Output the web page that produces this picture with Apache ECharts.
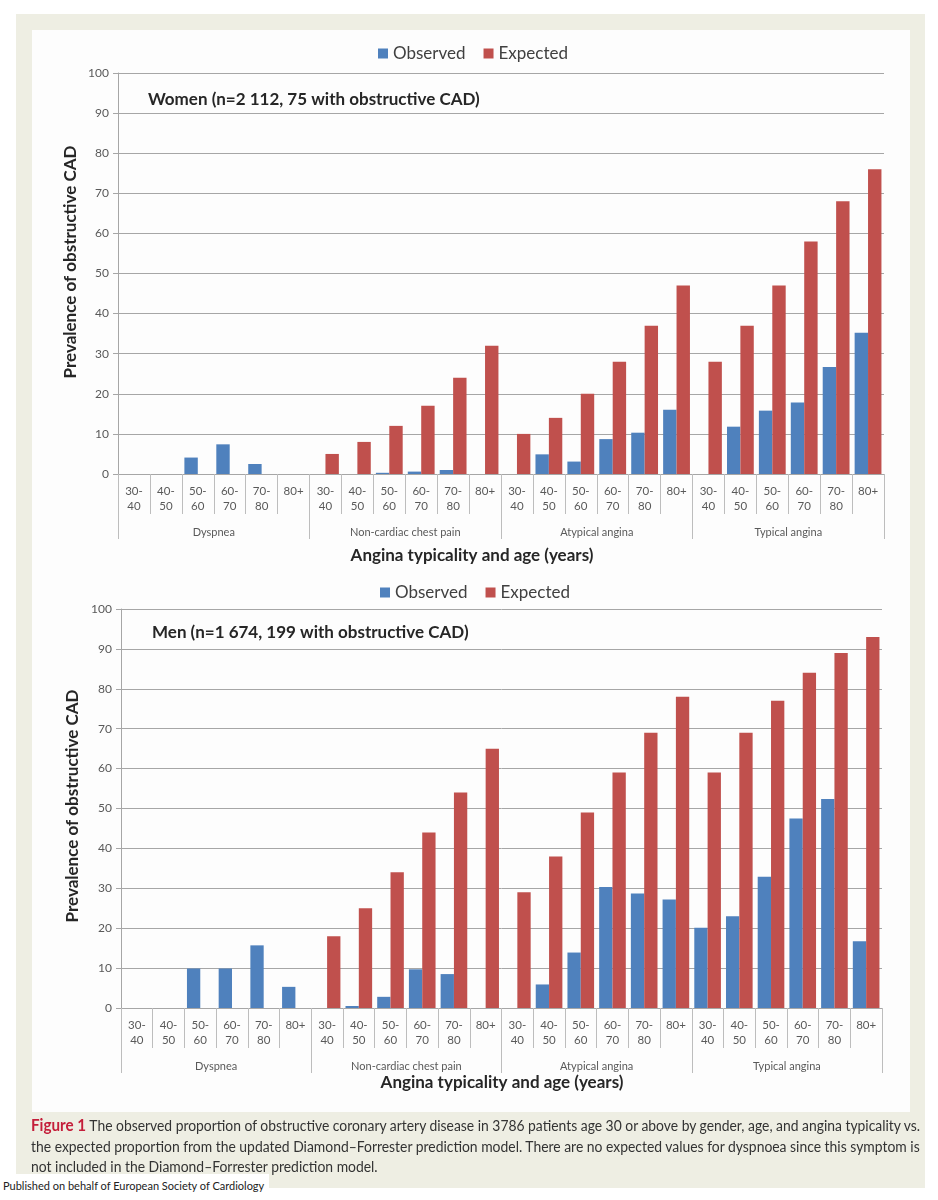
<!DOCTYPE html>
<html>
<head>
<meta charset="utf-8">
<script src="https://cdn.jsdelivr.net/npm/echarts@6/dist/echarts.min.js"></script>
<style>
html,body{margin:0;padding:0;background:#fff;}
body{width:938px;height:1200px;position:relative;overflow:hidden;}
#panel{position:absolute;left:16px;top:14px;width:909px;height:1174px;background:#eeeee3;}
#inner{position:absolute;left:32px;top:30px;width:878px;height:1082px;background:#fdfdfd;}
#chart{position:absolute;left:0;top:0;width:938px;height:1200px;}
.cap{position:absolute;left:31px;font-family:Lato,"Open Sans",sans-serif;font-size:15.5px;color:#333;white-space:nowrap;line-height:21px;transform-origin:0 50%;display:inline-block;}
.fig{color:#c41e3a;font-weight:bold;font-size:17px;}
#pub{position:absolute;left:0;top:1174px;padding:0 5px 0 3px;background:#fff;font-family:Lato,sans-serif;font-size:11px;color:#222;line-height:24px;}
</style>
</head>
<body>
<div id="panel"></div>
<div id="inner"></div>
<div id="chart"></div>
<div class="cap" id="c1" style="top:1114px;"><span class="fig">Figure 1</span> The observed proportion of obstructive coronary artery disease in 3786 patients age 30 or above by gender, age, and angina typicality vs.</div>
<div class="cap" id="c2" style="top:1136px;">the expected proportion from the updated Diamond–Forrester prediction model. There are no expected values for dyspnoea since this symptom is</div>
<div class="cap" id="c3" style="top:1156px;">not included in the Diamond–Forrester prediction model.</div>
<div id="pub">Published on behalf of European Society of Cardiology</div>
<script>
// ---------- data ----------
const ageLabels = ['30-40', '40-50', '50-60', '60-70', '70-80', '80+'];
const groupLabels = ['Dyspnea', 'Non-cardiac chest pain', 'Atypical angina', 'Typical angina'];
const yTicks = [0, 10, 20, 30, 40, 50, 60, 70, 80, 90, 100];
const seriesNames = ['Observed', 'Expected'];

// order: Dyspnea(6), Non-cardiac(6), Atypical(6), Typical(6)
const womenObserved = [null, null, 4.1, 7.4, 2.5, null,
                       null, null, 0.3, 0.6, 1.0, null,
                       null, 4.9, 3.1, 8.7, 10.3, 16.0,
                       null, 11.8, 15.8, 17.8, 26.7, 35.2];
const womenExpected = [null, null, null, null, null, null,
                       5, 8, 12, 17, 24, 32,
                       10, 14, 20, 28, 37, 47,
                       28, 37, 47, 58, 68, 76];
const menObserved = [null, null, 9.9, 9.9, 15.7, 5.3,
                     null, 0.5, 2.8, 9.7, 8.5, null,
                     null, 5.9, 13.9, 30.3, 28.7, 27.2,
                     20.1, 23.0, 32.9, 47.5, 52.4, 16.7];
const menExpected = [null, null, null, null, null, null,
                     18, 25, 34, 44, 54, 65,
                     29, 38, 49, 59, 69, 78,
                     59, 69, 77, 84, 89, 93];

const womenTitle = 'Women (n=2 112, 75 with obstructive CAD)';
const menTitle = 'Men (n=1 674, 199 with obstructive CAD)';
const yName = 'Prevalence of obstructive CAD';
const xName = 'Angina typicality and age (years)';

// ---------- build ----------
const categories = [];
groupLabels.forEach(g => ageLabels.forEach(a => categories.push(g + '|' + a)));

const FONT = 'Lato, "Open Sans", sans-serif';
const BLUE = '#4f81bd', RED = '#c0504d';
const GRID_C = '#a6a6a6', TICK_C = '#bdbdbd', LBL_C = '#595959';

const grids = [
  {left: 118, top: 73, width: 766, height: 401},
  {left: 118, top: 73, width: 766, height: 401},
  {left: 121, top: 609, width: 761, height: 399},
  {left: 121, top: 609, width: 761, height: 399}
];

function ageAxis(gi) {
  return {
    gridIndex: gi, type: 'category', data: categories, position: 'bottom',
    axisLine: {show: true, lineStyle: {color: GRID_C, width: 1}},
    axisTick: {show: true, interval: 0, length: 40, lineStyle: {color: TICK_C}},
    axisLabel: {interval: 0, margin: 10, fontSize: 11.5, lineHeight: 15, color: LBL_C, fontFamily: FONT,
      formatter: v => { const a = v.split('|')[1]; return a.indexOf('-') >= 0 ? a.replace('-', '-\n') : a; }},
    splitLine: {show: false}
  };
}
function groupAxis(gi) {
  return {
    gridIndex: gi, type: 'category', data: groupLabels, position: 'bottom',
    axisLine: {show: false},
    axisTick: {show: true, interval: 0, length: 65, lineStyle: {color: TICK_C}},
    axisLabel: {interval: 0, margin: 51, fontSize: 11, lineHeight: 15, color: LBL_C, fontFamily: FONT},
    splitLine: {show: false}
  };
}
function valAxis(gi) {
  return {
    gridIndex: gi, type: 'value', min: yTicks[0], max: yTicks[yTicks.length - 1], interval: yTicks[1] - yTicks[0],
    axisLine: {show: true, lineStyle: {color: GRID_C}},
    axisTick: {show: true, length: 5, lineStyle: {color: GRID_C}},
    axisLabel: {margin: 9, fontSize: 12, color: LBL_C, fontFamily: FONT},
    splitLine: {show: true, lineStyle: {color: GRID_C, width: 1}}
  };
}
function dummyY(gi) {
  return {gridIndex: gi, type: 'value', min: 0, max: 1, show: false, splitLine: {show: false}};
}
function bar(name, xi, data, color) {
  return {
    type: 'bar', name: name, xAxisIndex: xi, yAxisIndex: xi, data: data,
    itemStyle: {color: color}, barGap: '0%', barCategoryGap: '16%',
    emphasis: {disabled: true}
  };
}
function txt(text, x, y, opts) {
  return Object.assign({
    type: 'text', x: x, y: y,
    style: {text: text, font: 'bold 17px ' + FONT, fill: '#262626', textAlign: 'left', textVerticalAlign: 'middle'}
  }, opts || {});
}
const legendBase = {
  data: seriesNames, icon: 'rect', itemWidth: 10, itemHeight: 10, itemGap: 18, orient: 'horizontal',
  textStyle: {fontFamily: FONT, fontSize: 17, color: '#404040'}, selectedMode: false
};

const option = {
  animation: false,
  backgroundColor: 'transparent',
  grid: grids,
  legend: [
    Object.assign({left: 373, top: 40}, legendBase),
    Object.assign({left: 375, top: 579}, legendBase)
  ],
  xAxis: [ageAxis(0), groupAxis(1), ageAxis(2), groupAxis(3)],
  yAxis: [valAxis(0), dummyY(1), valAxis(2), dummyY(3)],
  series: [
    bar(seriesNames[0], 0, womenObserved, BLUE),
    bar(seriesNames[1], 0, womenExpected, RED),
    bar(seriesNames[0], 2, menObserved, BLUE),
    bar(seriesNames[1], 2, menExpected, RED)
  ],
  graphic: [
    txt(womenTitle, 148, 100),
    txt(menTitle, 152, 633),
    {type: 'text', x: 71, y: 262, rotation: Math.PI / 2,
      style: {text: yName, font: 'bold 17px ' + FONT, fill: '#262626', textAlign: 'center', textVerticalAlign: 'middle'}},
    {type: 'text', x: 73, y: 806, rotation: Math.PI / 2,
      style: {text: yName, font: 'bold 17px ' + FONT, fill: '#262626', textAlign: 'center', textVerticalAlign: 'middle'}},
    {type: 'text', x: 472, y: 556,
      style: {text: xName, font: 'bold 17px ' + FONT, fill: '#262626', textAlign: 'center', textVerticalAlign: 'middle'}},
    {type: 'text', x: 502, y: 1083,
      style: {text: xName, font: 'bold 17px ' + FONT, fill: '#262626', textAlign: 'center', textVerticalAlign: 'middle'}}
  ]
};

const chart = echarts.init(document.getElementById('chart'), null, {renderer: 'canvas'});
chart.setOption(option);

// fit caption lines (condensed caption typeface in the original)
function fitCaption() {
  const target = 889;
  const c1 = document.getElementById('c1'), c2 = document.getElementById('c2'), c3 = document.getElementById('c3');
  [c1, c2, c3].forEach(c => c.style.transform = 'none');
  const s1 = target / c1.offsetWidth, s2 = target / c2.offsetWidth;
  c1.style.transform = 'scaleX(' + s1 + ')';
  c2.style.transform = 'scaleX(' + s2 + ')';
  c3.style.transform = 'scaleX(' + s2 + ')';
}
fitCaption();
if (document.fonts && document.fonts.ready) document.fonts.ready.then(fitCaption);
</script>
</body>
</html>
